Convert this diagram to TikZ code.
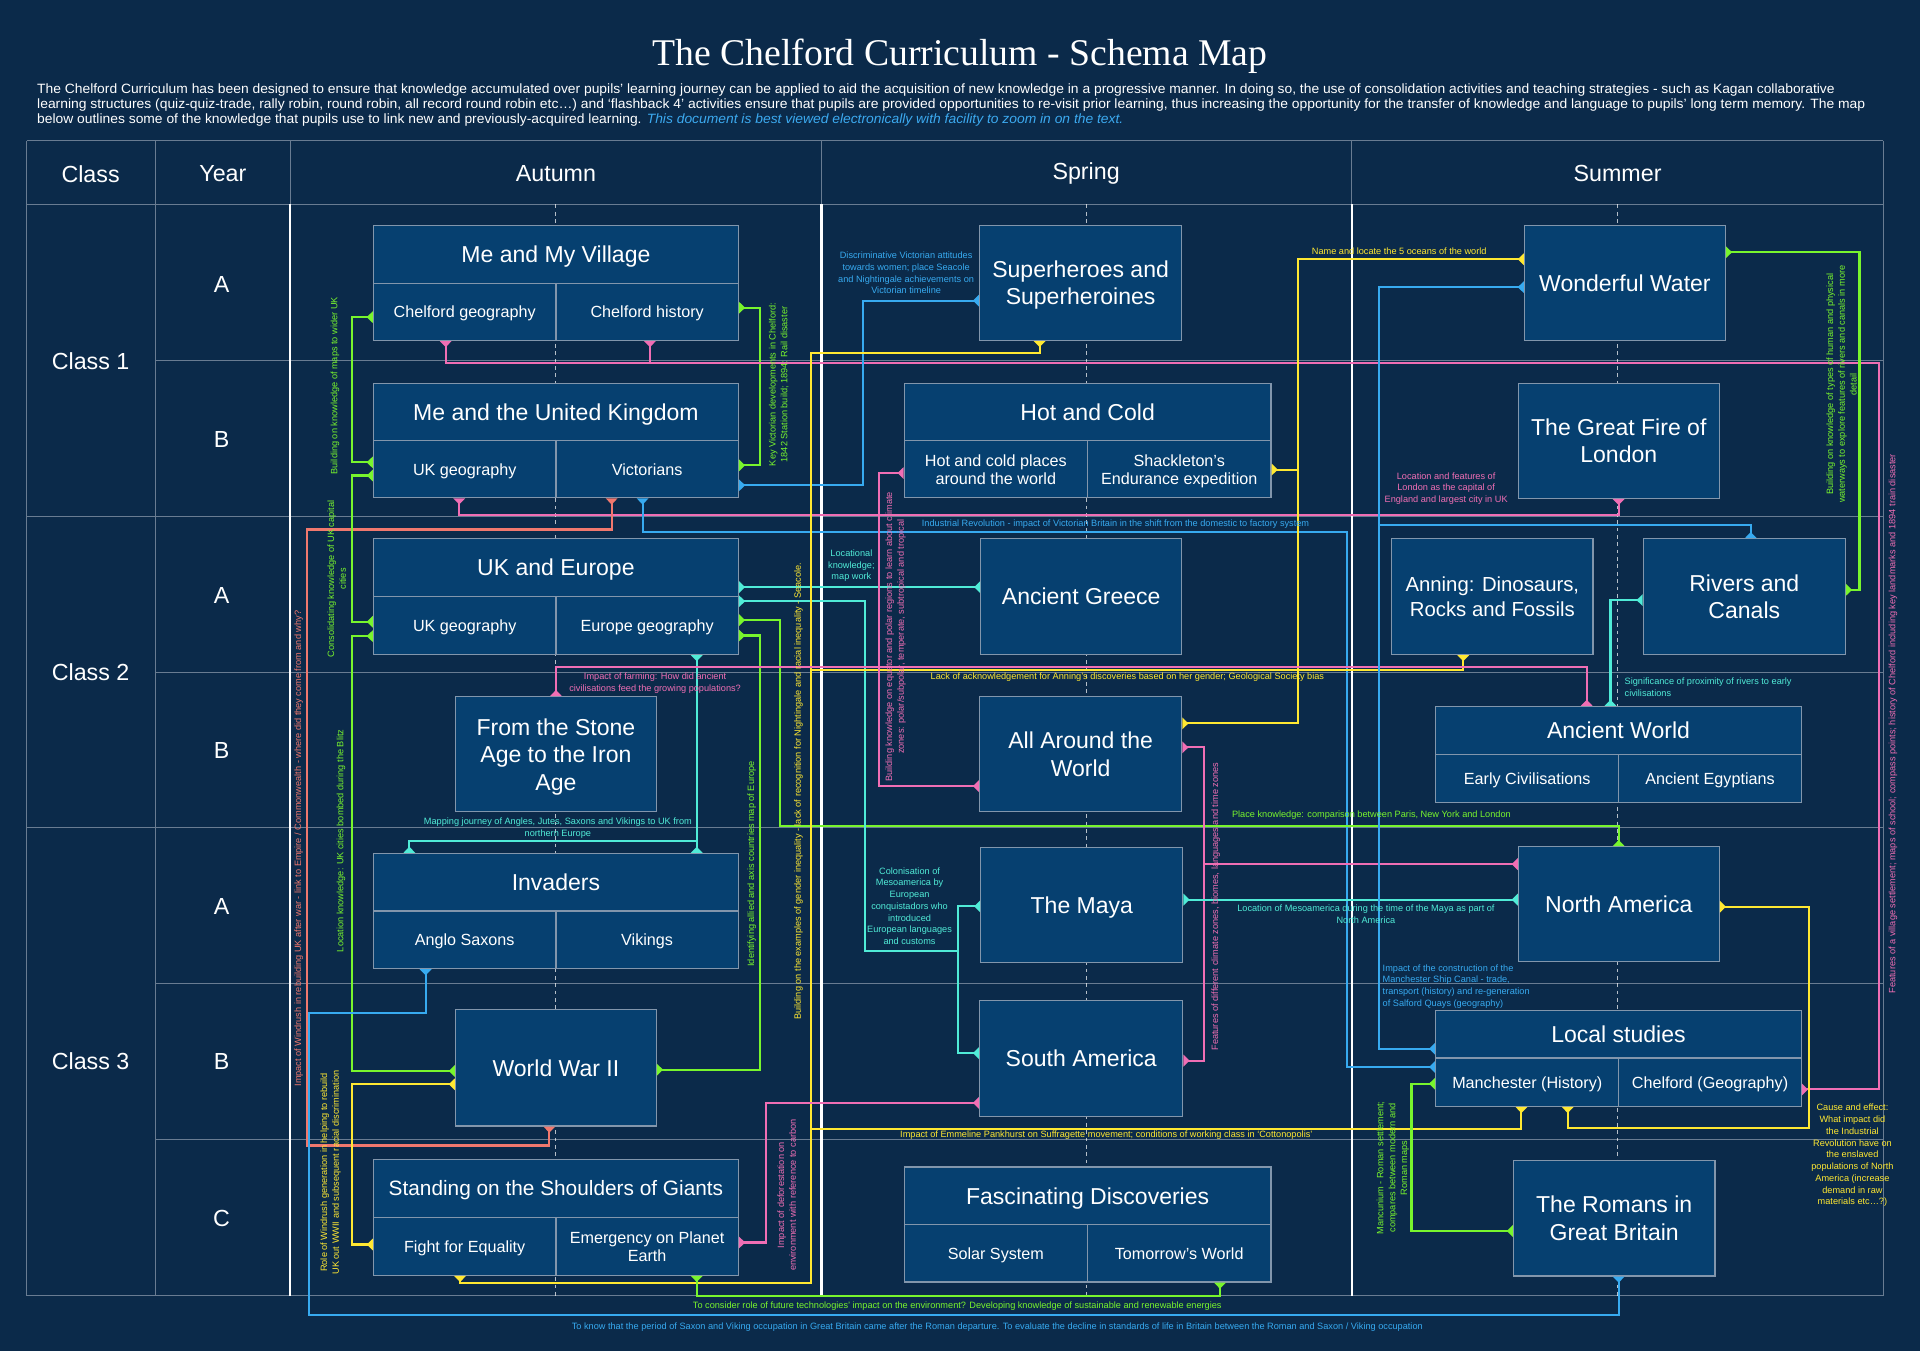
\documentclass[tikz,border=0pt]{standalone}
\usepackage{fontspec}
\usepackage{graphicx}
\setmainfont{Liberation Sans}
\newfontfamily\titlefont{Liberation Serif}
\usetikzlibrary{arrows.meta}
\definecolor{bgc}{RGB}{11,42,74}
\definecolor{boxc}{RGB}{6,64,112}
\definecolor{boxl}{RGB}{130,150,172}
\definecolor{gridc}{RGB}{105,124,146}
\definecolor{cgreen}{RGB}{120,245,45}
\definecolor{cpink}{RGB}{240,110,180}
\definecolor{cyel}{RGB}{255,232,50}
\definecolor{ccyan}{RGB}{80,235,215}
\definecolor{cblue}{RGB}{55,170,240}
\definecolor{ccoral}{RGB}{240,120,110}
\definecolor{introblue}{RGB}{60,170,240}
\newcommand\mkcell[7]{\node[bx,#6,minimum width={0.5pt*(#4-#2)},minimum height={0.5pt*(#5-#3)}] (#1) at ({(#2+#4)/2},{(#3+#5)/2}) {#7};}
\tikzset{
 bx/.style={draw=boxl, fill=boxc, line width=0.5pt, inner sep=1pt, text=white, align=center, text depth=0pt},
 bt/.style={font=\fontsize{9.4}{11.2}\selectfont},
 bs/.style={font=\fontsize{6.6}{7.4}\selectfont},
 hd/.style={text=white, font=\fontsize{9.5}{11}\selectfont, inner sep=0pt},
 gl/.style={draw=gridc, line width=0.45pt},
 wl/.style={draw=white, line width=1pt},
 dl/.style={draw=white, line width=0.4pt, dash pattern=on 1.5pt off 1.5pt, opacity=0.7},
 con/.style={line width=0.85pt, arrows={Triangle[reversed,width=4.7pt,length=2.5pt]-Triangle[reversed,width=4.7pt,length=2.5pt]}},
 cend/.style={line width=0.85pt, arrows={-Triangle[reversed,width=4.7pt,length=2.5pt]}},
 cstart/.style={line width=0.85pt, arrows={Triangle[reversed,width=4.7pt,length=2.5pt]-}},
 lb/.style={font=\fontsize{3.75}{4.8}\selectfont, inner sep=0pt, align=center},
}
\begin{document}
\begin{tikzpicture}[x=0.5pt,y=-0.5pt]
\fill[bgc] (0,0) rectangle (1568,1103);
\useasboundingbox (0,0) rectangle (1568,1103);
% title and intro
\node[text=white, font=\titlefont\fontsize{15.4}{18}\selectfont, inner sep=0pt] (title) at (784,46) {The Chelford Curriculum - Schema Map};
\node[anchor=base west, inner sep=0pt, text=white] (intro1) at (30,76) {\resizebox{734pt}{\height}{\fontsize{5.5}{6}\selectfont The Chelford Curriculum has been designed to ensure that knowledge accumulated over pupils’ learning journey can be applied to aid the acquisition of new knowledge in a progressive manner. In doing so, the use of consolidation activities and teaching strategies - such as Kagan collaborative}};
\node[anchor=base west, inner sep=0pt, text=white] (intro2) at (30,88.5) {\resizebox{746.5pt}{\height}{\fontsize{5.5}{6}\selectfont learning structures (quiz-quiz-trade, rally robin, round robin, all record round robin etc…) and ‘flashback 4’ activities ensure that pupils are provided opportunities to re-visit prior learning, thus increasing the opportunity for the transfer of knowledge and language to pupils’ long term memory. The map}};
\node[anchor=base west, inner sep=0pt, text=white] (intro3) at (30,101) {\resizebox{443.5pt}{\height}{\fontsize{5.5}{6}\selectfont below outlines some of the knowledge that pupils use to link new and previously-acquired learning. {\color{introblue}\itshape This document is best viewed electronically with facility to zoom in on the text.}}};
% grid
\draw[gl] (22,115) -- (1538,115);
\draw[gl] (22,167) -- (1538,167);
\draw[gl] (127,294.3) -- (1538,294.3);
\draw[gl] (22,421.6) -- (1538,421.6);
\draw[gl] (127,548.9) -- (1538,548.9);
\draw[gl] (22,676.1) -- (1538,676.1);
\draw[gl] (127,803.4) -- (1538,803.4);
\draw[gl] (127,930.7) -- (1538,930.7);
\draw[gl] (22,1058) -- (1538,1058);
\draw[gl] (22,115) -- (22,1058);
\draw[gl] (127,115) -- (127,1058);
\draw[gl] (1538,115) -- (1538,1058);
\draw[gl] (237,115) -- (237,167);
\draw[gl] (671,115) -- (671,167);
\draw[gl] (1104,115) -- (1104,167);
\draw[wl] (237,167) -- (237,1058);
\draw[wl] (671,167) -- (671,1058);
\draw[wl] (1104,167) -- (1104,1058);
\draw[dl] (454,167) -- (454,1058);
\draw[dl] (887,167) -- (887,1058);
\draw[dl] (1321,167) -- (1321,1058);
% headers
\node[hd] (hClass) at (74,142) {Class};
\node[hd] (hYear) at (182,142) {Year};
\node[hd] (hAut) at (454,142) {Autumn};
\node[hd] (hSpr) at (887,142) {Spring};
\node[hd] (hSum) at (1321,142) {Summer};
\node[hd] (c1) at (74,295) {Class 1};
\node[hd] (c2) at (74,549) {Class 2};
\node[hd] (c3) at (74,867) {Class 3};
\node[hd] (yA1) at (181,232) {A};
\node[hd] (yB1) at (181,359) {B};
\node[hd] (yA2) at (181,486) {A};
\node[hd] (yB2) at (181,613) {B};
\node[hd] (yA3) at (181,740) {A};
\node[hd] (yB3) at (181,867) {B};
\node[hd] (yC3) at (181,995) {C};
% Autumn boxes
\mkcell{mv}{305}{184}{603}{231.5}{bt}{Me and My Village}
\mkcell{mvA}{305}{231.5}{454}{278}{bs}{Chelford geography}
\mkcell{mvB}{454}{231.5}{603}{278}{bs}{Chelford history}
\mkcell{uk}{305}{313}{603}{360}{bt}{Me and the United Kingdom}
\mkcell{ukA}{305}{360}{454}{406.5}{bs}{UK geography}
\mkcell{ukB}{454}{360}{603}{406.5}{bs}{Victorians}
\mkcell{ue}{305}{440}{603}{487}{bt}{UK and Europe}
\mkcell{ueA}{305}{487}{454}{534.5}{bs}{UK geography}
\mkcell{ueB}{454}{487}{603}{534.5}{bs}{Europe geography}
\mkcell{sa}{372}{569}{536}{663}{bt}{From the Stone\\Age to the Iron\\Age}
\mkcell{inv}{305}{697}{603}{744}{bt}{Invaders}
\mkcell{invA}{305}{744}{454}{791}{bs}{Anglo Saxons}
\mkcell{invB}{454}{744}{603}{791}{bs}{Vikings}
\mkcell{ww}{372}{824.5}{536}{919.5}{bt}{World War II}
\mkcell{sg}{305}{947}{603}{994}{font=\fontsize{8.5}{10}\selectfont}{Standing on the Shoulders of Giants}
\mkcell{sgA}{305}{994}{454}{1041.5}{bs}{Fight for Equality}
\mkcell{sgB}{454}{994}{603}{1041.5}{bs}{Emergency on Planet\\Earth}
% Spring boxes
\mkcell{sh}{800}{184}{965}{278}{bt}{Superheroes and\\Superheroines}
\mkcell{hc}{738.5}{313}{1038}{360}{bt}{Hot and Cold}
\mkcell{hcA}{738.5}{360}{888}{406.5}{bs}{Hot and cold places\\around the world}
\mkcell{hcB}{888}{360}{1038}{406.5}{bs}{Shackleton’s\\Endurance expedition}
\mkcell{ag}{801}{440}{965}{534.5}{bt}{Ancient Greece}
\mkcell{aw}{800}{569}{965}{663}{bt}{All Around the\\World}
\mkcell{my}{801}{692}{966}{786}{bt}{The Maya}
\mkcell{sam}{800}{817}{966}{911.5}{bt}{South America}
\mkcell{fd}{738.5}{953}{1038}{1000}{bt}{Fascinating Discoveries}
\mkcell{fdA}{738.5}{1000}{888}{1047}{bs}{Solar System}
\mkcell{fdB}{888}{1000}{1038}{1047}{bs}{Tomorrow’s World}
% Summer boxes
\mkcell{wat}{1245}{184}{1409}{278}{bt}{Wonderful Water}
\mkcell{gf}{1240}{313}{1404}{407}{bt}{The Great Fire of\\London}
\mkcell{an}{1136.5}{440}{1301}{534.5}{font=\fontsize{8.3}{10.2}\selectfont}{Anning: Dinosaurs,\\Rocks and Fossils}
\mkcell{rc}{1342}{440}{1507}{534.5}{bt}{Rivers and\\Canals}
\mkcell{awd}{1172.5}{577}{1471}{616}{bt}{Ancient World}
\mkcell{awdA}{1172.5}{616}{1322}{655.5}{bs}{Early Civilisations}
\mkcell{awdB}{1322}{616}{1471}{655.5}{bs}{Ancient Egyptians}
\mkcell{na}{1240}{691.5}{1404}{785.5}{bt}{North America}
\mkcell{ls}{1172.5}{825}{1471}{864}{bt}{Local studies}
\mkcell{lsA}{1172.5}{864}{1322}{903.5}{bs}{Manchester (History)}
\mkcell{lsB}{1322}{864}{1471}{903.5}{bs}{Chelford (Geography)}
\mkcell{ro}{1236}{947.5}{1400.5}{1042}{bt}{The Romans in\\Great Britain}
% connectors
\draw[con,cgreen] (mvA.west |- 0,259) -- (287.2,259) -- (287.2,377.6) -- (ukA.west |- 0,377.6);
\draw[con,cgreen] (mvB.east |- 0,251.3) -- (620.6,251.3) -- (620.6,380) -- (ukB.east |- 0,380);
\draw[con,cpink] (lsB.east |- 0,889.7) -- (1534.7,889.7) -- (1534.7,296.3) -- (364,296.3) -- (mvA.south -| 364,0);
\draw[cend,cpink] (530.8,296.3) -- (mvB.south -| 530.8,0);
\draw[con,cpink] (ukA.south -| 375,0) -- (375,420.6) -- (1321.9,420.6) -- (gf.south -| 1321.9,0);
\draw[con,ccoral] (ukB.south -| 499.5,0) -- (499.5,432.4) -- (250.5,432.4) -- (250.5,935.5) -- (448.6,935.5) -- (ww.south -| 448.6,0);
\draw[con,cblue] (ukB.east |- 0,396.3) -- (704.7,396.3) -- (704.7,245.5) -- (sh.west |- 0,245.5);
\draw[con,cblue] (ukB.south -| 524.8,0) -- (524.8,434.1) -- (1099.8,434.1) -- (1099.8,871.4) -- (lsA.west |- 0,871.4);
\draw[con,cgreen] (ukA.west |- 0,388.3) -- (287.2,388.3) -- (287.2,507.8) -- (ueA.west |- 0,507.8);
\draw[con,cgreen] (ueA.west |- 0,519.5) -- (287.2,519.5) -- (287.2,874.6) -- (ww.west |- 0,874.6);
\draw[con,cyel] (ww.west |- 0,885.5) -- (287.2,885.5) -- (287.2,1016.3) -- (sgA.west |- 0,1016.3);
\draw[con,ccyan] (ueB.south -| 569,0) -- (569,687) -- (334.3,687) -- (inv.north -| 334.3,0);
\draw[cend,ccyan] (569,687) -- (inv.north -| 569,0);
\draw[con,cblue] (invA.south -| 347.6,0) -- (347.6,827.4) -- (252.6,827.4) -- (252.6,1074) -- (1321.9,1074) -- (ro.south -| 1321.9,0);
\draw[con,cgreen] (ueB.east |- 0,506.4) -- (637,506.4) -- (637,674.5) -- (1321.9,674.5) -- (na.north -| 1321.9,0);
\draw[con,cgreen] (ueB.east |- 0,519) -- (620.6,519) -- (620.6,873.6) -- (ww.east |- 0,873.6);
\draw[con,ccyan] (ue.east |- 0,479.5) -- (ag.west |- 0,479.5);
\draw[con,ccyan] (ueB.east |- 0,491) -- (706.5,491) -- (706.5,776.7) -- (782,776.7) -- (782,740.2) -- (my.west |- 0,740.2);
\draw[cend,ccyan] (782,776.7) -- (782,860) -- (sam.west |- 0,860);
\draw[con,cyel] (sh.south -| 849,0) -- (849,288.5) -- (662.5,288.5) -- (662.5,1047.5) -- (375.7,1047.5) -- (sgA.south -| 375.7,0);
\draw[cstart,cyel] (lsA.south -| 1242.5,0) -- (1242.5,922) -- (662.5,922);
\draw[cstart,cyel] (an.south -| 1195,0) -- (1195,547) -- (662.5,547);
\draw[con,cyel] (wat.west |- 0,211.7) -- (1060,211.7) -- (1060,590.8) -- (aw.east |- 0,590.8);
\draw[cend,cyel] (1060,383.5) -- (hcB.east |- 0,383.5);
\draw[con,cpink] (sa.north -| 454,0) -- (454,544.4) -- (1295.8,544.4) -- (awd.north -| 1295.8,0);
\draw[con,ccyan] (awd.north -| 1315.2,0) -- (1315.2,490.1) -- (rc.west |- 0,490.1);
\draw[con,cgreen] (wat.east |- 0,206) -- (1518.6,206) -- (1518.6,481.7) -- (rc.east |- 0,481.7);
\draw[con,cpink] (hcA.west |- 0,386.3) -- (717.8,386.3) -- (717.8,642) -- (aw.west |- 0,642);
\draw[con,cpink] (aw.east |- 0,610.4) -- (983.5,610.4) -- (983.5,866.2) -- (sam.east |- 0,866.2);
\draw[cend,cpink] (983.5,705.7) -- (na.west |- 0,705.7);
\draw[con,ccyan] (my.east |- 0,734.7) -- (na.west |- 0,734.7);
\draw[con,cyel] (na.east |- 0,740.5) -- (1477.2,740.5) -- (1477.2,921.4) -- (1280.3,921.4) -- (lsA.south -| 1280.3,0);
\draw[con,cblue] (wat.west |- 0,234.5) -- (1126.3,234.5) -- (1126.3,856.5) -- (ls.west |- 0,856.5);
\draw[cend,cblue] (1126.3,429.1) -- (1429.8,429.1) -- (rc.north -| 1429.8,0);
\draw[con,cgreen] (lsA.west |- 0,885) -- (1152.7,885) -- (1152.7,1005.3) -- (ro.west |- 0,1005.3);
\draw[con,cpink] (sgB.east |- 0,1014.7) -- (625.3,1014.7) -- (625.3,900.7) -- (sam.west |- 0,900.7);
\draw[con,cgreen] (sgB.south -| 569,0) -- (569,1058.3) -- (996.3,1058.3) -- (fdB.south -| 996.3,0);
% labels
\node[lb,text=cgreen,rotate=90] (l1) at (273.6,315) {Building on knowledge of maps to wider UK};
\node[lb,text=cgreen,rotate=90] (l2) at (636,314) {Key Victorian developments in Chelford:\\1842 Station build; 1894: Rail disaster};
\node[lb,text=cpink,rotate=90] (l3) at (1546,591) {Features of a village settlement; maps of school; compass points; history of Chelford including key landmarks and 1894 train disaster};
\node[lb,text=cpink] (l4) at (1181,399) {Location and features of\\London as the capital of\\England and largest city in UK};
\node[lb,text=ccoral,rotate=90] (l5) at (244,693) {Impact of Windrush in rebuilding UK after war - link to Empire / Commonwealth - where did they come from and why?};
\node[lb,text=cblue] (l6) at (740,223) {Discriminative Victorian attitudes\\towards women; place Seacole\\and Nightingale achievements on\\Victorian timeline};
\node[lb,text=cblue] (l7) at (911,427.7) {Industrial Revolution - impact of Victorian Britain in the shift from the domestic to factory system};
\node[lb,text=cblue,align=left,anchor=west] (l8) at (1128.8,805.5) {Impact of the construction of the\\Manchester Ship Canal - trade,\\transport (history) and re-generation\\of Salford Quays (geography)};
\node[lb,text=cgreen,rotate=90] (l9) at (275,472.7) {Consolidating knowledge of UK capital\\cities};
\node[lb,text=cgreen,rotate=90] (l10) at (278.5,686.7) {Location knowledge: UK cities bombed during the Blitz};
\node[lb,text=cyel,rotate=90] (l11) at (270,957.5) {Role of Windrush generation in helping to rebuild\\UK out WWII and subsequent racial discrimination};
\node[lb,text=ccyan] (l12) at (455.6,676) {Mapping journey of Angles, Jutes, Saxons and Vikings to UK from\\northern Europe};
\node[lb,text=cblue] (l13) at (814.5,1083.4) {To know that the period of Saxon and Viking occupation in Great Britain came after the Roman departure. To evaluate the decline in standards of life in Britain between the Roman and Saxon / Viking occupation};
\node[lb,text=cgreen,rotate=90] (l14) at (614,705.6) {Identifying allied and axis countries map of Europe};
\node[lb,text=cgreen] (l15) at (1120,666) {Place knowledge: comparison between Paris, New York and London};
\node[lb,text=ccyan] (l16) at (695.3,462) {Locational\\knowledge;\\map work};
\node[lb,text=ccyan] (l17) at (742.8,740) {Colonisation of\\Mesoamerica by\\European\\conquistadors who\\introduced\\European languages\\and customs};
\node[lb,text=cyel,rotate=90] (l18) at (652,646) {Building on the examples of gender inequality - lack of recognition for Nightingale and racial inequality - Seacole.};
\node[lb,text=cyel] (l19) at (903.5,927) {Impact of Emmeline Pankhurst on Suffragette movement; conditions of working class in ‘Cottonopolis’};
\node[lb,text=cyel] (l20) at (1142.7,205.5) {Name and locate the 5 oceans of the world};
\node[lb,text=cyel] (l21) at (920.7,552.8) {Lack of acknowledgement for Anning’s discoveries based on her gender; Geological Society bias};
\node[lb,text=cpink] (l22) at (535,557.7) {Impact of farming: How did ancient\\civilisations feed the growing populations?};
\node[lb,text=ccyan,align=left,anchor=west] (l23) at (1326.4,561) {Significance of proximity of rivers to early\\civilisations};
\node[lb,text=cgreen,rotate=90] (l24) at (1504,313.8) {Building on knowledge of types of human and physical\\waterways to explore features of rivers and canals in more\\detail};
\node[lb,text=cpink,rotate=90] (l25) at (731.5,520) {Building knowledge on equator and polar regions to learn about climate\\zones: polar/subpolar, temperate, subtropical and tropical};
\node[lb,text=cpink,rotate=90] (l26) at (992.8,740.4) {Features of different climate zones, biomes, languages and time zones};
\node[lb,text=ccyan] (l27) at (1115.5,746.7) {Location of Mesoamerica during the time of the Maya as part of\\North America};
\node[lb,text=cyel] (l28) at (1512.8,943.6) {Cause and effect:\\What impact did\\the Industrial\\Revolution have on\\the enslaved\\populations of North\\America (increase\\demand in raw\\materials etc…?)};
\node[lb,text=cgreen,rotate=90] (l29) at (1137.5,953.8) {Mancunium - Roman settlement;\\compares between modern and\\Roman maps};
\node[lb,text=cpink,rotate=90] (l30) at (642.5,976) {Impact of deforestation on\\environment with reference to carbon};
\node[lb,text=cgreen] (l31) at (781.8,1066.5) {To consider role of future technologies’ impact on the environment? Developing knowledge of sustainable and renewable energies};
\end{tikzpicture}
\end{document}
